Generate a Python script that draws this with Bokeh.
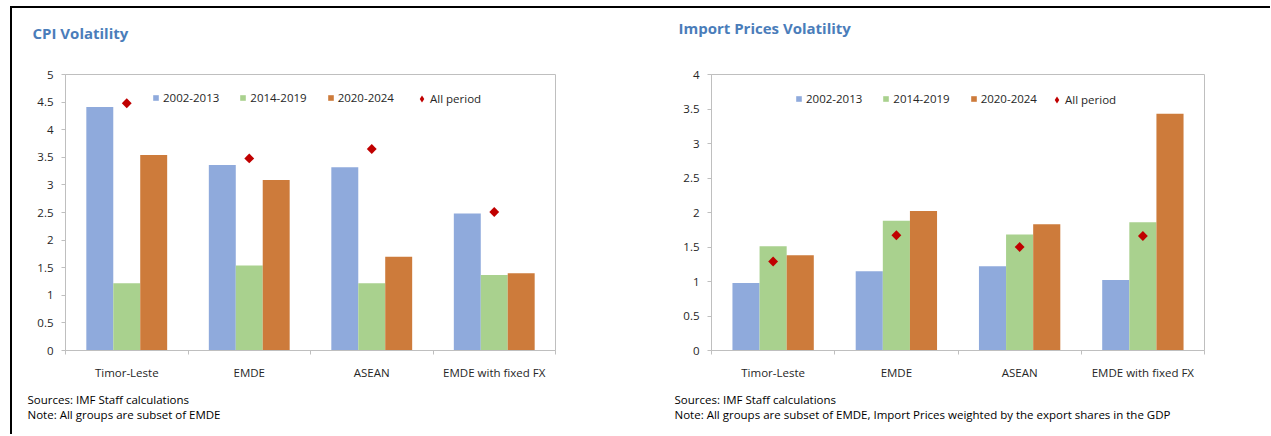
import numpy as np
from bokeh.plotting import figure
from bokeh.layouts import row
from bokeh.models import (Range1d, FixedTicker, NumeralTickFormatter, Title,
                          Legend, LegendItem)
from bokeh.embed import file_html
from bokeh.resources import INLINE

# ---------------- data ----------------
categories = ["Timor-Leste", "EMDE", "ASEAN", "EMDE with fixed FX"]
series_names = ["2002-2013", "2014-2019", "2020-2024"]
all_period_name = "All period"

cpi_2002_2013 = [4.41, 3.36, 3.32, 2.48]
cpi_2014_2019 = [1.22, 1.54, 1.22, 1.37]
cpi_2020_2024 = [3.54, 3.09, 1.70, 1.40]
cpi_all_period = [4.48, 3.48, 3.65, 2.51]

imp_2002_2013 = [0.98, 1.15, 1.22, 1.02]
imp_2014_2019 = [1.51, 1.88, 1.68, 1.86]
imp_2020_2024 = [1.38, 2.02, 1.83, 3.43]
imp_all_period = [1.29, 1.67, 1.50, 1.66]

cpi_y_ticks = [0, 0.5, 1, 1.5, 2, 2.5, 3, 3.5, 4, 4.5, 5]
imp_y_ticks = [0, 0.5, 1, 1.5, 2, 2.5, 3, 3.5, 4]

cpi_title = "CPI Volatility"
imp_title = "Import Prices Volatility"
sources_text = "Sources: IMF Staff calculations"
cpi_note = "Note: All groups are subset of EMDE"
imp_note = "Note: All groups are subset of EMDE, Import Prices weighted by the export shares in the GDP"

# ---------------- style ----------------
COLORS = ["#8FAADC", "#A9D18E", "#CD7B3B"]
DIAMOND = "#C00000"
GRAY = "#BFBFBF"
TITLE_COLOR = "#4A7DBA"
TEXT_COLOR = "#262626"
FONT = "Open Sans"
FS = "11.5px"


def make_panel(title, note, series, all_period, y_ticks, geom):
    W, H = geom["width"], geom["height"]
    n = len(categories)
    ymax = y_ticks[-1]
    p = figure(width=W, height=H, title=None, toolbar_location=None,
               output_backend="svg", x_range=Range1d(0, n),
               y_range=Range1d(0, ymax), min_border_left=geom["bl"],
               min_border_right=geom["br"], min_border_top=geom["bt"],
               min_border_bottom=geom["bb"])
    p.background_fill_color = "white"
    p.border_fill_color = "white"
    p.outline_line_color = GRAY
    p.outline_line_width = 1
    p.xgrid.visible = False
    p.ygrid.visible = False

    centers = np.arange(n) + 0.5
    bw = 0.22
    offsets = [-bw, 0.0, bw]
    renderers = []
    for vals, off, col in zip(series, offsets, COLORS):
        r = p.vbar(x=centers + off, top=vals, width=bw, bottom=0,
                   fill_color=col, line_color=None)
        renderers.append(r)
    # narrow diamond (used for the legend), fully covered by the wider one
    rd_leg = p.scatter(x=centers, y=all_period, marker="diamond", size=7,
                       fill_color=DIAMOND, line_color=None)
    p.scatter(x=centers, y=all_period, marker="square", angle=np.pi / 4,
              size=7, fill_color=DIAMOND, line_color=None)

    # axes
    xa = p.xaxis[0]
    xa.ticker = FixedTicker(ticks=list(centers), minor_ticks=list(range(n + 1)))
    xa.major_label_overrides = {float(c): lab for c, lab in zip(centers, categories)}
    xa.major_tick_line_color = None
    xa.major_tick_out = 0
    xa.major_tick_in = 0
    xa.minor_tick_line_color = GRAY
    xa.minor_tick_out = 4
    xa.minor_tick_in = 0
    xa.major_label_standoff = 10
    xa.axis_line_color = GRAY
    xa.major_label_text_font = FONT
    xa.major_label_text_font_size = FS
    xa.major_label_text_color = TEXT_COLOR

    ya = p.yaxis[0]
    ya.ticker = FixedTicker(ticks=y_ticks)
    ya.formatter = NumeralTickFormatter(format="0.[0]")
    ya.major_tick_line_color = GRAY
    ya.major_tick_out = 4
    ya.major_tick_in = 0
    ya.minor_tick_line_color = None
    ya.major_label_standoff = 8
    ya.axis_line_color = GRAY
    ya.major_label_text_font = FONT
    ya.major_label_text_font_size = FS
    ya.major_label_text_color = TEXT_COLOR

    # spacer (nearest the frame) then the chart title above it
    p.add_layout(Title(text=" ", text_font_size="1px", standoff=geom["spacer"]),
                 "above")
    p.add_layout(Title(text=title, align="left", offset=geom["title_off"],
                       standoff=geom["title_standoff"], text_font=FONT,
                       text_font_size="15px", text_font_style="bold",
                       text_color=TITLE_COLOR), "above")
    p.add_layout(Title(text=sources_text + "\n" + note, align="left",
                       offset=geom["src_off"], standoff=geom["src_standoff"],
                       text_font=FONT, text_font_size=FS,
                       text_font_style="normal", text_line_height=1.02,
                       text_color="#000000"), "below")

    common = dict(orientation="horizontal", padding=0, margin=0,
                  label_text_font=FONT, label_text_font_size=FS,
                  label_text_color=TEXT_COLOR, border_line_alpha=0,
                  background_fill_alpha=0)
    items = [LegendItem(label=nm, renderers=[r]) for nm, r in zip(series_names, renderers)]
    leg = Legend(items=items, location=(geom["leg_x"], geom["leg_y"]),
                 spacing=20, label_standoff=4, glyph_width=7, glyph_height=7,
                 label_height=14, **common)
    p.add_layout(leg)
    leg2 = Legend(items=[LegendItem(label=all_period_name, renderers=[rd_leg])],
                  location=(geom["leg2_x"], geom["leg_y"] - 1.5), spacing=0,
                  label_standoff=0, glyph_width=17, glyph_height=17,
                  label_height=17, **common)
    p.add_layout(leg2)
    return p


# canvas origins: left (12, 8), right (640, 8)
geom_left = dict(width=628, height=426, bl=53, br=85, bt=66, bb=82,
                 spacer=24, title_off=-33, title_standoff=10, src_off=-38,
                 src_standoff=16, leg_x=87, leg_y=245, leg2_x=348)
geom_right = dict(width=630, height=426, bl=71, br=66, bt=63, bb=84,
                  spacer=31, title_off=-33, title_standoff=6, src_off=-37,
                  src_standoff=16, leg_x=84, leg_y=244, leg2_x=337)

p1 = make_panel(cpi_title, cpi_note, [cpi_2002_2013, cpi_2014_2019, cpi_2020_2024],
                cpi_all_period, cpi_y_ticks, geom_left)
p2 = make_panel(imp_title, imp_note, [imp_2002_2013, imp_2014_2019, imp_2020_2024],
                imp_all_period, imp_y_ticks, geom_right)

layout = row(p1, p2, styles={"border-top": "2px solid #000000",
                             "border-left": "2px solid #000000",
                             "margin-left": "10px", "margin-top": "6px"})

open("out.html", "w").write(file_html(layout, INLINE))
